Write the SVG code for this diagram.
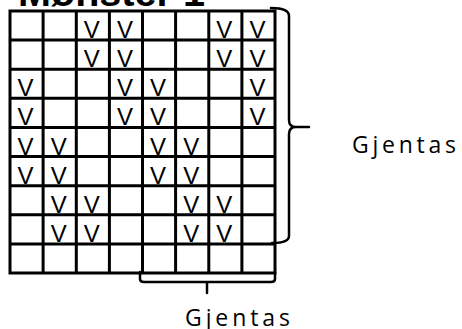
<svg xmlns="http://www.w3.org/2000/svg" width="462" height="329" viewBox="0 0 462 329">
<style>
.grid{stroke:#000;stroke-width:3;fill:none}
.brace{stroke:#000;stroke-width:2.5;fill:none;stroke-linecap:round}
.v{font-family:"Liberation Sans",Arial,sans-serif;font-size:24px;fill:#000;text-anchor:middle}
.lbl{font-family:"Open Sans","Liberation Sans",sans-serif;font-size:23px;fill:#000}
.title{font-family:"Liberation Sans",Arial,sans-serif;font-weight:bold;font-size:38px;fill:#000}
</style>
<rect width="462" height="329" fill="#fff"/>
<text class="title" x="18" y="6" textLength="187" lengthAdjust="spacingAndGlyphs">Mønster 1</text>
<g id="grid" class="grid">
<rect x="10" y="11" width="265" height="262"/>
<path d="M43.1,11V273M76.3,11V273M109.4,11V273M142.5,11V273M175.6,11V273M208.8,11V273M241.9,11V273"/>
<path d="M10,40.1H275M10,69.2H275M10,98.3H275M10,127.4H275M10,156.6H275M10,185.7H275M10,214.8H275M10,243.9H275"/>
</g>
<g id="marks" class="v">
<text x="91.8" y="38">V</text><text x="124.9" y="38">V</text><text x="224.3" y="38">V</text><text x="257.4" y="38">V</text>
<text x="91.8" y="67.2">V</text><text x="124.9" y="67.2">V</text><text x="224.3" y="67.2">V</text><text x="257.4" y="67.2">V</text>
<text x="25.6" y="96.3">V</text><text x="124.9" y="96.3">V</text><text x="158.1" y="96.3">V</text><text x="257.4" y="96.3">V</text>
<text x="25.6" y="125.4">V</text><text x="124.9" y="125.4">V</text><text x="158.1" y="125.4">V</text><text x="257.4" y="125.4">V</text>
<text x="25.6" y="154.6">V</text><text x="58.7" y="154.6">V</text><text x="158.1" y="154.6">V</text><text x="191.2" y="154.6">V</text>
<text x="25.6" y="183.7">V</text><text x="58.7" y="183.7">V</text><text x="158.1" y="183.7">V</text><text x="191.2" y="183.7">V</text>
<text x="58.7" y="212.8">V</text><text x="91.8" y="212.8">V</text><text x="191.2" y="212.8">V</text><text x="224.3" y="212.8">V</text>
<text x="58.7" y="241.9">V</text><text x="91.8" y="241.9">V</text><text x="191.2" y="241.9">V</text><text x="224.3" y="241.9">V</text>
</g>
<g id="connectors" class="brace">
<path d="M271,8 Q289,8 289,16 L289,120 Q289,127 296,127 L309,127 M296,127 Q289,127 289,134 L289,236 Q289,243 272,243"/>
<path d="M140,272 L140,279 Q140,282 144,282 L271,282 Q275,282 275,279 L275,272 M207,282 L207,293"/>
</g>
<g id="label-right"><text class="lbl" x="352" y="153" textLength="104" lengthAdjust="spacing">Gjentas</text></g>
<g id="label-bottom"><text class="lbl" x="185" y="326" textLength="105" lengthAdjust="spacing">Gjentas</text></g>
</svg>
